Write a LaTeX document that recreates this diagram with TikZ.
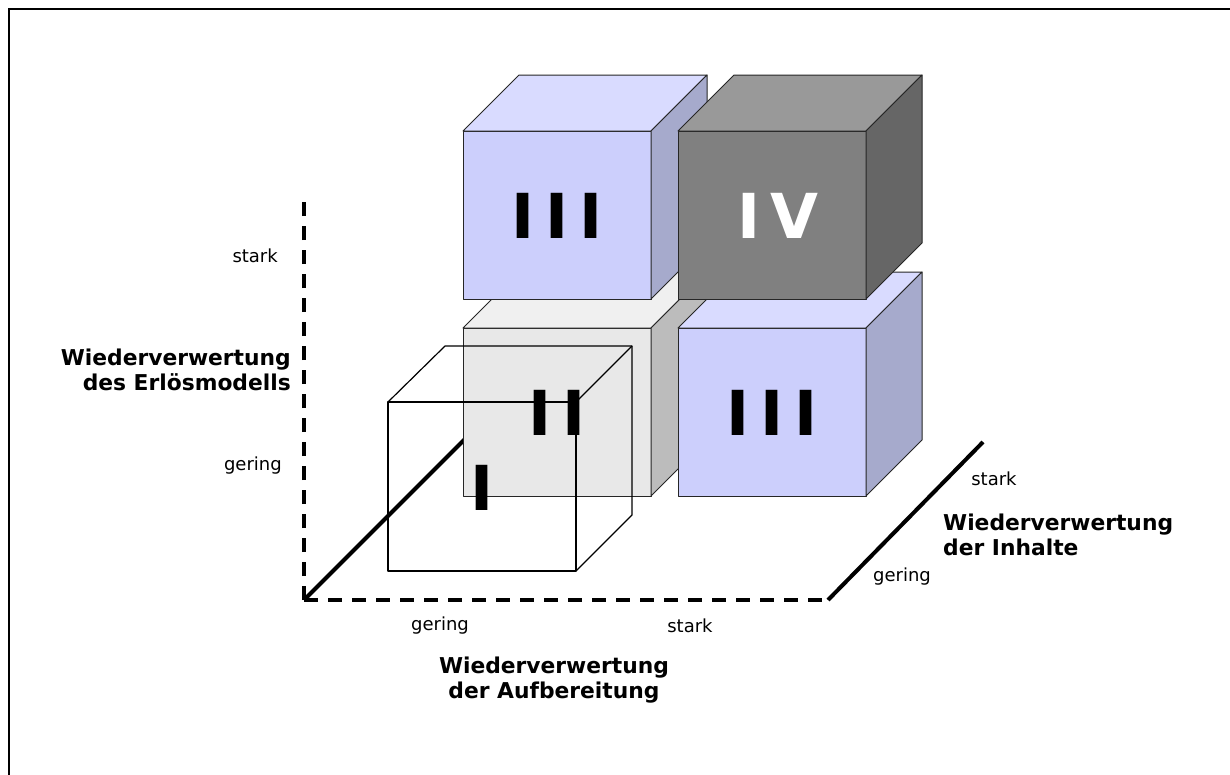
\documentclass[tikz,border=0pt]{standalone}
\usepackage{fontspec}
\setmainfont{DejaVu Sans}
\definecolor{bluefront}{RGB}{204,207,252}
\definecolor{bluetop}{RGB}{217,219,255}
\definecolor{blueside}{RGB}{166,170,204}
\definecolor{grayfront}{RGB}{232,232,232}
\definecolor{graytop}{RGB}{240,240,240}
\definecolor{grayside}{RGB}{188,188,188}
\definecolor{darkfront}{RGB}{128,128,128}
\definecolor{darktop}{RGB}{153,153,153}
\definecolor{darkside}{RGB}{102,102,102}
\newcommand\mycube[5]{%
  \path[edge, fill=#3] (#1,#2) rectangle ++(188,168);
  \path[edge, fill=#4] (#1,#2) -- ++(56,-56) -- ++(188,0) -- ++(-56,56) -- cycle;
  \path[edge, fill=#5] (#1+188,#2) -- ++(56,-56) -- ++(0,168) -- ++(-56,56) -- cycle;
}
\begin{document}
\begin{tikzpicture}[x=1pt,y=-1pt,
  edge/.style={draw=black!85, line width=1pt, line join=round},
  axisdash/.style={line width=4pt, dash pattern=on 14pt off 10pt},
  axissolid/.style={line width=4pt},
  wire/.style={draw=black, line width=1.2pt, line join=round},
  num/.style={font=\fontsize{62}{62}\selectfont\bfseries, inner sep=0pt},
  small/.style={font=\fontsize{18}{22}\selectfont, inner sep=0pt},
  big/.style={font=\fontsize{21.8}{25}\selectfont\bfseries, inner sep=0pt},
]
\useasboundingbox (0,0) rectangle (1230,774);
\begin{scope}
\clip (0,0) rectangle (1230,774);
\draw[line width=2pt] (9,9) rectangle (1240,784);
\end{scope}
% axes
\coordinate (top) at (304,200);
\coordinate (origin) at (304,600);
\coordinate (xend) at (828,600);
\coordinate (zhid) at (540,364);
\coordinate (zend) at (983,442);
\draw[axisdash] (origin) -- (top);
\draw[axisdash] (origin) -- (xend);
\draw[axissolid] (origin) -- (zhid);
\draw[axissolid] (xend) -- (zend);
% cubes
\mycube{463}{328}{grayfront}{graytop}{grayside}
\mycube{678}{328}{bluefront}{bluetop}{blueside}
\mycube{463}{131}{bluefront}{bluetop}{blueside}
\mycube{678}{131}{darkfront}{darktop}{darkside}
% wireframe cube I
\draw[wire] (388,402) rectangle (576,571);
\draw[wire] (388,402) -- (445,346) -- (632,346) -- (632,515) -- (576,571);
\draw[wire] (576,402) -- (632,346);
% numerals
\node[num] (n3a) at (557,216) {I\hspace{11pt}I\hspace{11pt}I};
\node[num, text=white] (n4) at (778,216) {I\hspace{9pt}V};
\node[num] (n3b) at (772,413) {I\hspace{11pt}I\hspace{11pt}I};
\node[num] (n2) at (557,413) {I\hspace{11pt}I};
\node[num] (n1) at (482,488) {I};
% labels
\node[small, anchor=east] (ls) at (278,256) {stark};
\node[big, align=right, anchor=east] (ly) at (291,370) {Wiederverwertung\\des Erlösmodells};
\node[small, anchor=east] (lg) at (282,466) {gering};
\node[small] (bg) at (440,626) {gering};
\node[small] (bs) at (690,626) {stark};
\node[big, align=center] (bx) at (554,680) {Wiederverwertung\\der Aufbereitung};
\node[small] (rs) at (994,479) {stark};
\node[big, align=left, anchor=west] (rz) at (943,535) {Wiederverwertung\\der Inhalte};
\node[small] (rg) at (902,577) {gering};
\end{tikzpicture}
\end{document}
